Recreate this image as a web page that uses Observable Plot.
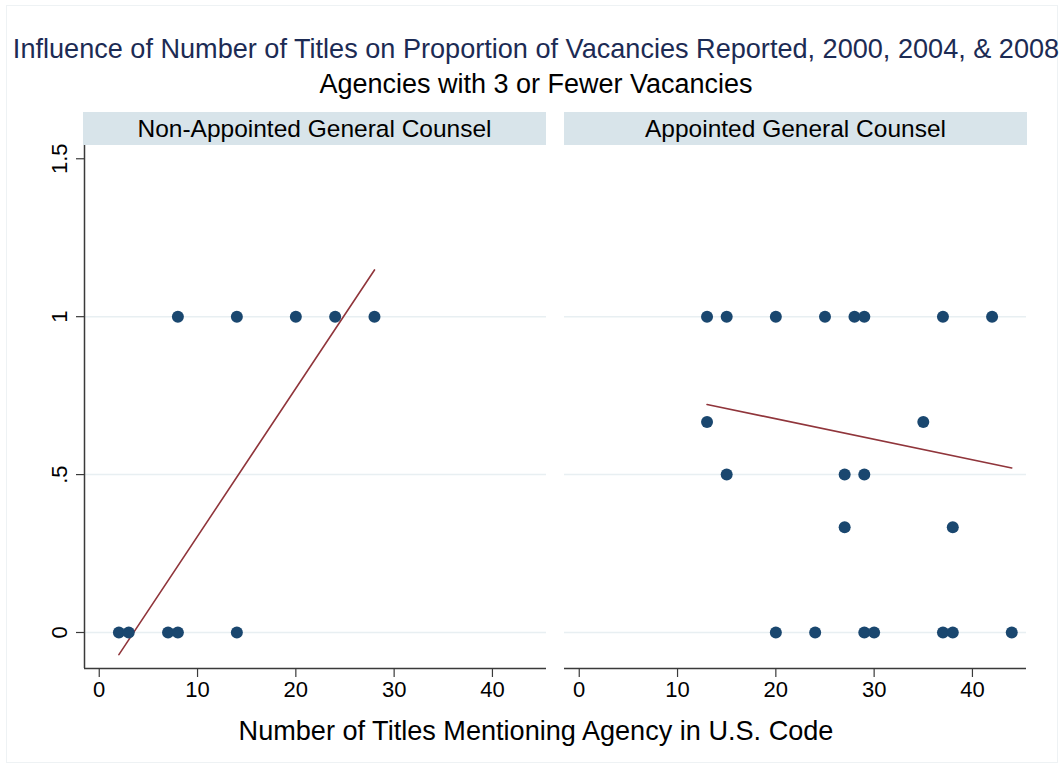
<!DOCTYPE html>
<html>
<head>
<meta charset="utf-8">
<script src="https://cdn.jsdelivr.net/npm/d3@7"></script>
<script src="https://cdn.jsdelivr.net/npm/@observablehq/plot@0.6"></script>
<style>
  html, body { margin: 0; padding: 0; background: #fff; }
  body { width: 1062px; height: 769px; position: relative; overflow: hidden;
         font-family: "Liberation Sans", Arial, sans-serif; }
  .frame { position: absolute; left: 6px; top: 5px; width: 1052px; height: 758px;
           border: 1px solid #eef2f4; box-sizing: border-box; }
  .txt { position: absolute; white-space: nowrap; line-height: 1; }
  .hdr { position: absolute; top: 112px; height: 33px; line-height: 33px; width: 463px;
         background: #d8e4ea; text-align: center; font-size: 24.5px; color: #000; }
  #chart { position: absolute; left: 0; top: 140px; }
  #chart svg text { font-size: 22px; }
</style>
</head>
<body>
<div class="frame"></div>
<div id="title" class="txt" style="top:35px;font-size:27.1px;color:#1c2b54;">Influence of Number of Titles on Proportion of Vacancies Reported, 2000, 2004, &amp; 2008</div>
<div id="subtitle" class="txt" style="top:71px;font-size:27px;color:#000;">Agencies with 3 or Fewer Vacancies</div>
<div id="h0" class="hdr" style="left:83px;"></div>
<div id="h1" class="hdr" style="left:564px;"></div>
<div id="chart"></div>
<div id="xlabel" class="txt" style="top:717px;font-size:27.1px;color:#000;">Number of Titles Mentioning Agency in U.S. Code</div>
<script>
// ---- data ----
const panels = ["Non-Appointed General Counsel", "Appointed General Counsel"];

const leftX = [8, 14, 20, 24, 28, 2, 3, 7, 8, 14];
const leftY = [1, 1, 1, 1, 1, 0, 0, 0, 0, 0];

const rightX = [13, 15, 20, 25, 28, 29, 37, 42, 13, 35, 15, 27, 29, 27, 38, 20, 24, 29, 30, 37, 38, 44];
const rightY = [1, 1, 1, 1, 1, 1, 1, 1, 2/3, 2/3, 0.5, 0.5, 0.5, 1/3, 1/3, 0, 0, 0, 0, 0, 0, 0];

const fitLeftX = [2, 28];
const fitLeftY = [-0.07, 1.148];
const fitRightX = [13, 44];
const fitRightY = [0.722, 0.521];

const xTicks = [0, 10, 20, 30, 40];
const yTicks = [0, 0.5, 1, 1.5];
const yTickLabels = ["0", ".5", "1", "1.5"];
const gridY = [0, 0.5, 1];

const xDomain = [-1.5, 45.5];
const yDomain = [-0.114, 1.542];

// ---- build tables ----
const points = [
  ...leftX.map((x, i) => ({x, y: leftY[i], panel: panels[0]})),
  ...rightX.map((x, i) => ({x, y: rightY[i], panel: panels[1]}))
];
const fits = [
  ...fitLeftX.map((x, i) => ({x, y: fitLeftY[i], panel: panels[0]})),
  ...fitRightX.map((x, i) => ({x, y: fitRightY[i], panel: panels[1]}))
];

document.getElementById("h0").textContent = panels[0];
document.getElementById("h1").textContent = panels[1];

const axisColor = "#3a3a3a";

const chart = Plot.plot({
  width: 1062,
  height: 568,
  marginLeft: 83,
  marginRight: 35,
  marginTop: 5,
  marginBottom: 40,
  style: {fontFamily: "'Liberation Sans', Arial, sans-serif", fontSize: "22px", background: "transparent", color: "#000"},
  fx: {domain: panels, paddingInner: 0.0374, paddingOuter: 0, axis: null, label: null},
  x: {domain: xDomain, label: null},
  y: {domain: yDomain, label: null},
  marks: [
    Plot.ruleY(gridY, {stroke: "#e8eff2", strokeWidth: 1.5}),
    Plot.ruleY([yDomain[0]], {stroke: axisColor, strokeWidth: 1.5}),
    Plot.ruleX([{x: xDomain[0], panel: panels[0]}], {x: "x", fx: "panel", stroke: axisColor, strokeWidth: 1.5}),
    Plot.axisX({ticks: xTicks, tickSize: 9, tickPadding: 4, fontSize: 22, stroke: axisColor, strokeWidth: 1.2, label: null}),
    Plot.axisY({ticks: yTicks, tickFormat: (d) => yTickLabels[yTicks.indexOf(d)], tickRotate: -90,
                tickSize: 8, tickPadding: 10, fontSize: 22, stroke: axisColor, strokeWidth: 1.2, label: null}),
    Plot.line(fits, {x: "x", y: "y", fx: "panel", z: "panel", stroke: "#90353b", strokeWidth: 1.6}),
    Plot.dot(points, {x: "x", y: "y", fx: "panel", r: 6, fill: "#1a476f", stroke: "none"})
  ]
});
document.getElementById("chart").appendChild(chart);

// center texts
for (const id of ["title", "subtitle", "xlabel"]) {
  const el = document.getElementById(id);
  const w = el.getBoundingClientRect().width;
  el.style.left = (536 - w / 2) + "px";
}
</script>
</body>
</html>
